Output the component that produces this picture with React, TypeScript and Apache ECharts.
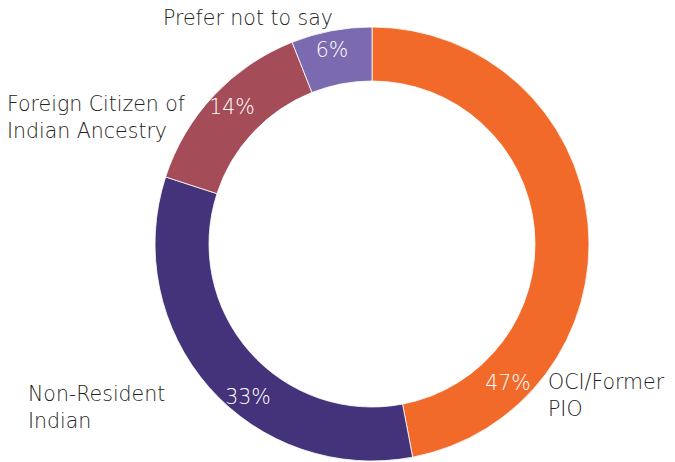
import React, { useEffect, useRef } from "react";
import * as echarts from "echarts";

const categories = ["OCI/Former\nPIO", "Non-Resident\nIndian", "Foreign Citizen of\nIndian Ancestry", "Prefer not to say"];
const values = [47, 33, 14, 6];
const colors = ["#F26A29", "#44337A", "#A44D58", "#7B6AB0"];
// label anchor points (px) for percentage labels and category labels
const pctLabelPos = [[508, 383], [248, 397], [232, 107], [332, 50]];
const catLabelPos = [[548, 395], [28, 407], [7, 117], [163, 18]];

export default function App() {
  const ref = useRef<HTMLDivElement>(null);
  useEffect(() => {
    document.body.style.margin = "0";
    const chart = echarts.init(ref.current!, null, { renderer: "svg" });
    const font = "'DejaVu Sans', sans-serif";
    const data = values.map((v, i) => ({ name: categories[i], value: v, itemStyle: { color: colors[i] } }));
    chart.setOption({
      animation: false,
      series: [
        {
          type: "pie",
          center: [372, 244],
          radius: [163, 217],
          startAngle: 90,
          clockwise: true,
          silent: true,
          itemStyle: { borderColor: "#ffffff", borderWidth: 0.8 },
          label: {
            show: true,
            position: "inside",
            formatter: "{c}%",
            color: "#ffffff",
            fontFamily: font,
            fontWeight: 200,
            fontSize: 20.5,
          },
          labelLine: { show: false },
          labelLayout: (p: any) => ({
            x: pctLabelPos[p.dataIndex][0],
            y: pctLabelPos[p.dataIndex][1],
            align: "center",
            verticalAlign: "middle",
          }),
          data,
        },
        {
          type: "pie",
          center: [372, 244],
          radius: [163, 217],
          startAngle: 90,
          clockwise: true,
          silent: true,
          itemStyle: { color: "transparent" },
          label: {
            show: true,
            position: "outside",
            formatter: "{b}",
            color: "#222222",
            fontFamily: font,
            fontWeight: 200,
            fontSize: 20.5,
            lineHeight: 27,
            align: "left",
            overflow: "none",
            width: 300,
          },
          labelLine: { show: false },
          labelLayout: (p: any) => ({
            x: catLabelPos[p.dataIndex][0],
            y: catLabelPos[p.dataIndex][1],
            align: "left",
            verticalAlign: "middle",
          }),
          data: values.map((v, i) => ({ name: categories[i], value: v })),
        },
      ],
    });
    return () => chart.dispose();
  }, []);
  return <div ref={ref} style={{ width: 675, height: 462 }} />;
}
